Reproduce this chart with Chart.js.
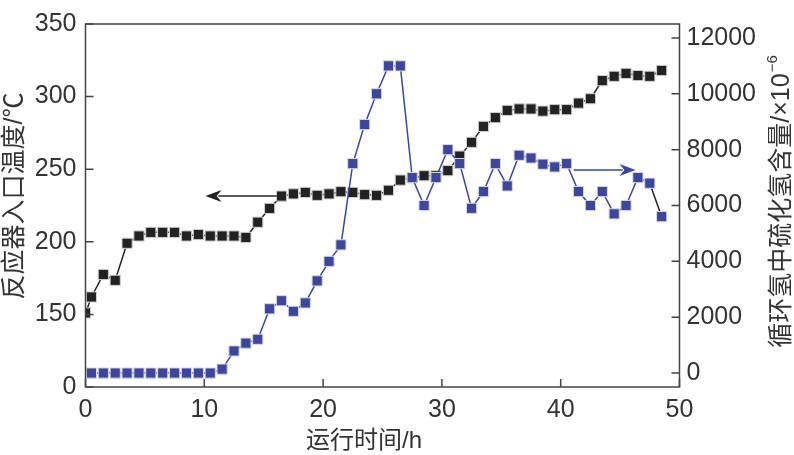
<!DOCTYPE html>
<html>
<head>
<meta charset="utf-8">
<style>
  html, body { margin: 0; padding: 0; background: #fff; }
  #wrap { width: 794px; height: 455px; }
</style>
<script src="https://cdn.jsdelivr.net/npm/chart.js@4/dist/chart.umd.min.js"></script>
</head>
<body>
<div id="wrap"><canvas id="chart" width="794" height="455"></canvas></div>
<script>
// ===== DATA =====
const tempHours = [0, 0.5, 1.5, 2.5, 3.5, 4.5, 5.5, 6.5, 7.5, 8.5, 9.5, 10.5, 11.5, 12.5, 13.5, 14.5,
  15.5, 16.5, 17.5, 18.5, 19.5, 20.5, 21.5, 22.5, 23.5, 24.5, 25.5, 26.5, 27.5, 28.5, 29.5, 30.5,
  31.5, 32.5, 33.5, 34.5, 35.5, 36.5, 37.5, 38.5, 39.5, 40.5, 41.5, 42.5, 43.5, 44.5, 45.5, 46.5,
  47.5, 48.5];
const tempValues = [151, 162, 177.5, 173.5, 199, 204, 206.5, 206.5, 206.5, 204, 205, 204, 204, 204, 203, 213.5,
  223, 231.5, 233, 234, 232, 233, 234.5, 234, 232.5, 232, 235.5, 242.5, 244, 245.5, 245.5, 249,
  259, 268.5, 279.5, 285.5, 290.5, 291.5, 291.5, 290, 291, 291, 295.5, 298.5, 311, 314, 316, 314.5,
  314, 318];

const h2sHours = [0.5, 1.5, 2.5, 3.5, 4.5, 5.5, 6.5, 7.5, 8.5, 9.5, 10.5, 11.5, 12.5, 13.5, 14.5,
  15.5, 16.5, 17.5, 18.5, 19.5, 20.5, 21.5, 22.5, 23.5, 24.5, 25.5, 26.5, 27.5, 28.5, 29.5, 30.5,
  31.5, 32.5, 33.5, 34.5, 35.5, 36.5, 37.5, 38.5, 39.5, 40.5, 41.5, 42.5, 43.5, 44.5, 45.5, 46.5,
  47.5, 48.5];
const h2sValues = [0, 0, 0, 0, 0, 0, 0, 0, 0, 0, 0, 140, 790, 1070, 1210,
  2300, 2590, 2210, 2510, 3300, 4000, 4590, 7500, 8900, 10000, 11000, 11000, 7000, 6000, 7000, 8000,
  7500, 5900, 6500, 7500, 6700, 7800, 7700, 7480, 7380, 7500, 6500, 6000, 6500, 5700, 6000, 7000,
  6800, 5600];

const xTicks = [0, 10, 20, 30, 40, 50];
const leftTicks = [100, 150, 200, 250, 300, 350];
const rightTicks = [0, 2000, 4000, 6000, 8000, 10000, 12000];

// arrows: [fromX, toX, value, axis]
const tempArrow = [16.1, 10.1, 231.6, "yL"];
const h2sArrow = [41.1, 46.3, 7270, "yR"];

const xTitle = "运行时间/h";
const leftTitle = "反应器入口温度/℃";
const rightTitle = "循环氢中硫化氢含量/×10";
const rightTitleSup = "−6";

const BLACK = "#222222";
const BLUE = "#3b469c";
const AXIS = "#444444";
const TICK_FONT = { family: "'Liberation Sans', Arial, Helvetica, sans-serif", size: 25 };
const CJK = "'Liberation Sans', 'Noto Sans CJK SC', sans-serif";

// ===== PLUGINS =====
function drawArrow(ctx, x1, x2, y, color) {
  const dir = x2 > x1 ? 1 : -1;
  const head = 16;
  ctx.strokeStyle = color;
  ctx.fillStyle = color;
  ctx.lineWidth = 1.5;
  ctx.beginPath();
  ctx.moveTo(x1, y);
  ctx.lineTo(x2 - dir * head * 0.8, y);
  ctx.stroke();
  ctx.beginPath();
  ctx.moveTo(x2, y);
  ctx.lineTo(x2 - dir * head, y - 6);
  ctx.lineTo(x2 - dir * head * 0.7, y);
  ctx.lineTo(x2 - dir * head, y + 6);
  ctx.closePath();
  ctx.fill();
}

const framePlugin = {
  id: "frame",
  afterDatasetsDraw(chart) {
    const { ctx, chartArea: a, scales } = chart;
    ctx.save();
    ctx.strokeStyle = AXIS;
    ctx.lineWidth = 1.5;
    ctx.strokeRect(a.left, a.top, a.right - a.left, a.bottom - a.top);
    const tl = 8;
    ctx.beginPath();
    xTicks.forEach((v) => {
      const px = scales.x.getPixelForValue(v);
      ctx.moveTo(px, a.bottom);
      ctx.lineTo(px, a.bottom - tl);
    });
    leftTicks.forEach((v) => {
      const py = scales.yL.getPixelForValue(v);
      ctx.moveTo(a.left, py);
      ctx.lineTo(a.left + tl, py);
    });
    rightTicks.forEach((v) => {
      const py = scales.yR.getPixelForValue(v);
      ctx.moveTo(a.right, py);
      ctx.lineTo(a.right - tl, py);
    });
    ctx.stroke();

    [[tempArrow, BLACK], [h2sArrow, BLUE]].forEach(([ar, col]) => {
      const y = scales[ar[3]].getPixelForValue(ar[2]);
      drawArrow(ctx, scales.x.getPixelForValue(ar[0]), scales.x.getPixelForValue(ar[1]), y, col);
    });
    ctx.restore();
  },
  afterDraw(chart) {
    const { ctx } = chart;
    ctx.save();
    ctx.fillStyle = "#333";
    ctx.textAlign = "center";
    ctx.textBaseline = "middle";
    ctx.font = "24px " + CJK;
    ctx.fillText(xTitle, 364, 441);

    ctx.font = "25px " + CJK;
    ctx.translate(15, 196);
    ctx.rotate(-Math.PI / 2);
    ctx.fillText(leftTitle, 0, 0);
    ctx.restore();

    ctx.save();
    ctx.fillStyle = "#333";
    ctx.font = "25px " + CJK;
    ctx.textBaseline = "middle";
    const w = ctx.measureText(rightTitle).width;
    ctx.font = "15px " + CJK;
    const ws = ctx.measureText(rightTitleSup).width;
    ctx.translate(782, 202);
    ctx.rotate(-Math.PI / 2);
    const start = -(w + ws) / 2;
    ctx.textAlign = "left";
    ctx.font = "25px " + CJK;
    ctx.fillText(rightTitle, start, 0);
    ctx.font = "15px " + CJK;
    ctx.fillText(rightTitleSup, start + w + 1, -9);
    ctx.restore();
  },
};

// ===== CHART =====
const setTicks = (list) => (scale) => {
  scale.ticks = list.map((v) => ({ value: v }));
};

new Chart(document.getElementById("chart"), {
  type: "line",
  data: {
    datasets: [
      {
        label: "h2s",
        yAxisID: "yR",
        order: 0,
        data: h2sHours.map((x, i) => ({ x, y: h2sValues[i] })),
        borderColor: BLUE,
        backgroundColor: BLUE,
        borderWidth: 1.5,
        pointStyle: "rect",
        pointRadius: 7.2,
        pointBackgroundColor: BLUE,
        pointBorderColor: "#d8d8e0",
        pointBorderWidth: 1,
        tension: 0,
        clip: 0,
        segment: {
          borderColor: (c) => (c.p1DataIndex === h2sValues.length - 1 ? BLACK : BLUE),
        },
      },
      {
        label: "temp",
        yAxisID: "yL",
        order: 1,
        data: tempHours.map((x, i) => ({ x, y: tempValues[i] })),
        borderColor: BLACK,
        backgroundColor: BLACK,
        borderWidth: 1.5,
        pointStyle: "rect",
        pointRadius: 7.2,
        pointBackgroundColor: BLACK,
        pointBorderColor: "#d0d0d0",
        pointBorderWidth: 1,
        tension: 0,
        clip: 0,
      },
    ],
  },
  options: {
    responsive: false,
    animation: false,
    devicePixelRatio: 1,
    layout: { padding: { top: 11, left: 0, right: 0, bottom: 0 } },
    plugins: { legend: { display: false }, tooltip: { enabled: false } },
    scales: {
      x: {
        type: "linear",
        min: 0,
        max: 50,
        afterBuildTicks: setTicks(xTicks),
        afterFit: (s) => { s.height = 68; },
        grid: { display: false, drawTicks: false },
        border: { display: false },
        ticks: { font: TICK_FONT, color: "#333", padding: 8, maxRotation: 0 },
      },
      yL: {
        position: "left",
        min: 100,
        max: 350,
        afterBuildTicks: setTicks(leftTicks),
        afterFit: (s) => { s.width = 85.5; },
        grid: { display: false, drawTicks: false },
        border: { display: false },
        ticks: {
          font: TICK_FONT,
          color: "#333",
          padding: 9,
          callback: (v) => (v === 100 ? "0" : String(v)),
        },
      },
      yR: {
        position: "right",
        min: -500,
        max: 12500,
        afterBuildTicks: setTicks(rightTicks),
        afterFit: (s) => { s.width = 114.5; },
        grid: { display: false, drawTicks: false },
        border: { display: false },
        ticks: { font: TICK_FONT, color: "#333", padding: 7, callback: (v) => String(v) },
      },
    },
  },
  plugins: [framePlugin],
});
</script>
</body>
</html>
